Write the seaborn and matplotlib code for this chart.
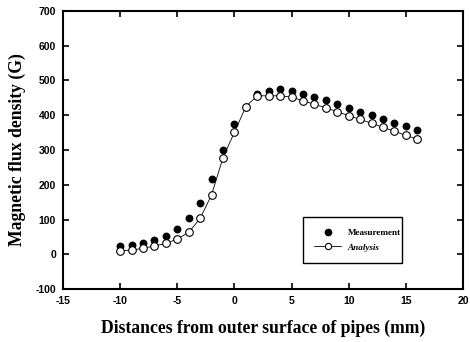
import numpy as np
import pandas as pd
import matplotlib
matplotlib.use("Agg")
import matplotlib.pyplot as plt
import seaborn as sns
from matplotlib.lines import Line2D

# 外表面からの距離 (mm)
distance = list(range(-10, 17))
# 測定値 (G)
measurement = [24, 28, 33, 41, 53, 72, 103, 147, 216, 300, 374, 425, 460, 471,
               475, 470, 461, 453, 444, 432, 420, 410, 401, 389, 379, 368, 358]
# 解析値 (G)
analysis = [10, 12, 17, 24, 31, 44, 63, 103, 171, 278, 351, 425, 456, 456,
            456, 452, 442, 431, 422, 410, 399, 388, 377, 365, 354, 342, 331]

x_ticks = [-15, -10, -5, 0, 5, 10, 15, 20]
y_ticks = [-100, 0, 100, 200, 300, 400, 500, 600, 700]

df = pd.DataFrame({"distance": distance, "Measurement": measurement, "Analysis": analysis})

sns.set_style("ticks")
plt.rcParams["font.family"] = ["Liberation Serif", "DejaVu Serif"]
plt.rcParams["text.color"] = "black"
plt.rcParams["axes.labelcolor"] = "black"
plt.rcParams["xtick.color"] = "black"
plt.rcParams["ytick.color"] = "black"

fig = plt.figure(figsize=(4.70, 3.42), dpi=100)
ax = fig.add_axes([63 / 470, 1 - 289 / 342, 400 / 470, 278 / 342])

# 解析値: 線 + 白丸
sns.lineplot(data=df, x="distance", y="Analysis", ax=ax, color="black", linewidth=0.6,
             marker="o", markersize=5.5, markerfacecolor="white", markeredgecolor="black",
             markeredgewidth=0.8, zorder=2)
# 測定値: 黒丸
sns.scatterplot(data=df, x="distance", y="Measurement", ax=ax, color="black", s=32,
                edgecolor="black", linewidth=0, zorder=1)

ax.set_xlim(-15, 20)
ax.set_ylim(-100, 700)
ax.set_xticks(x_ticks)
ax.set_yticks(y_ticks)
ax.set_xticklabels([str(t) for t in x_ticks], family="Liberation Sans", fontweight="bold", fontsize=7.5)
ax.set_yticklabels([str(t) for t in y_ticks], family="Liberation Sans", fontweight="bold", fontsize=7.5)
ax.tick_params(direction="in", length=4, width=1.2, top=True, right=True, pad=5)

for s in ax.spines.values():
    s.set_visible(True)
    s.set_linewidth(1.5)
    s.set_color("black")

ax.set_xlabel("Distances from outer surface of pipes (mm)", fontsize=12.7, fontweight="bold", labelpad=10)
ax.set_ylabel("Magnetic flux density (G)", fontsize=12.7, fontweight="bold", labelpad=7)

# 凡例
handles = [
    Line2D([], [], linestyle="none", marker="o", markersize=4.5, color="black"),
    Line2D([], [], color="black", linewidth=0.6, marker="o", markersize=4.5,
           markerfacecolor="white", markeredgecolor="black", markeredgewidth=0.8),
]
leg = ax.legend(handles, ["Measurement", "Analysis"], loc="lower left",
                bbox_to_anchor=(0.6, 0.0935, 0.2475, 0.1725), mode="expand",
                frameon=True, fancybox=False, edgecolor="black", framealpha=1,
                borderpad=1.25, handlelength=2.9, handletextpad=0.7, labelspacing=0.7,
                borderaxespad=0,
                prop={"family": "Liberation Serif", "weight": "bold", "size": 6.6})
leg.get_frame().set_linewidth(1.0)
leg.get_texts()[1].set_fontstyle("italic")

fig.savefig("out.png", dpi=100)
